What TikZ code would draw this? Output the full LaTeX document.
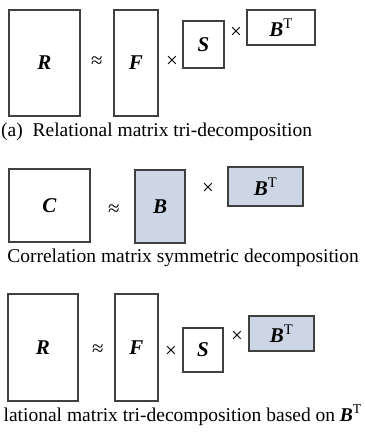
\documentclass[tikz,border=0pt]{standalone}
\usepackage{fontspec}
\setmainfont{Liberation Serif}
\definecolor{boxc}{HTML}{404040}
\definecolor{fillc}{HTML}{CCD6E4}
\begin{document}
\begin{tikzpicture}[x=1pt,y=-1pt,
  mat/.style={draw=boxc,line width=1.1pt,inner sep=0pt,font=\fontsize{21}{24}\selectfont\bfseries\itshape},
  shaded/.style={fill=fillc},
  op/.style={inner sep=0pt,font=\fontsize{21}{24}\selectfont},
  captext/.style={inner sep=0pt,font=\fontsize{19.5}{24}\selectfont}]
\useasboundingbox (0,0) rectangle (364,435);
% (a)
\node[mat,minimum width=71pt,minimum height=106pt] (R1) at (44.5,63) {R};
\node[op] (ap1) at (97,62) {≈};
\node[mat,minimum width=44pt,minimum height=106pt] (F1) at (136,63) {F};
\node[op] (x1a) at (172,62) {×};
\node[mat,minimum width=41pt,minimum height=47pt] (S1) at (203.5,44.5) {S};
\node[op] (x1b) at (236,33) {×};
\node[mat,minimum width=68pt,minimum height=35pt] (BT1) at (281,27.5) {\raisebox{-2pt}{B\textsuperscript{\normalfont T}}};
\node[captext,anchor=west] (c1) at (1,132) {(a)\ \ Relational matrix tri-decomposition};
% (b)
\node[mat,minimum width=81pt,minimum height=73pt] (C2) at (49.5,205.5) {C};
\node[op] (ap2) at (114,210) {≈};
\node[mat,shaded,minimum width=50pt,minimum height=73pt] (B2) at (160,206.5) {B};
\node[op] (x2) at (208,189) {×};
\node[mat,shaded,minimum width=75pt,minimum height=39pt] (BT2) at (265.5,186.5) {B\textsuperscript{\normalfont T}};
\node[captext,anchor=east] (c2) at (359,258) {Correlation matrix symmetric decomposition};
% (c)
\node[mat,minimum width=70pt,minimum height=107pt] (R3) at (43,347.5) {R};
\node[op] (ap3) at (98,350) {≈};
\node[mat,minimum width=43pt,minimum height=107pt] (F3) at (136.5,347.5) {F};
\node[op] (x3a) at (171,352) {×};
\node[mat,minimum width=40pt,minimum height=44pt] (S3) at (203,350) {S};
\node[op] (x3b) at (237,337) {×};
\node[mat,shaded,minimum width=65pt,minimum height=35pt] (BT3) at (281.5,333.5) {B\textsuperscript{\normalfont T}};
\node[captext,anchor=east] (c3) at (362,415) {lational matrix tri-decomposition based on \textbf{\textit{B}}\textsuperscript{T}};
\end{tikzpicture}
\end{document}
